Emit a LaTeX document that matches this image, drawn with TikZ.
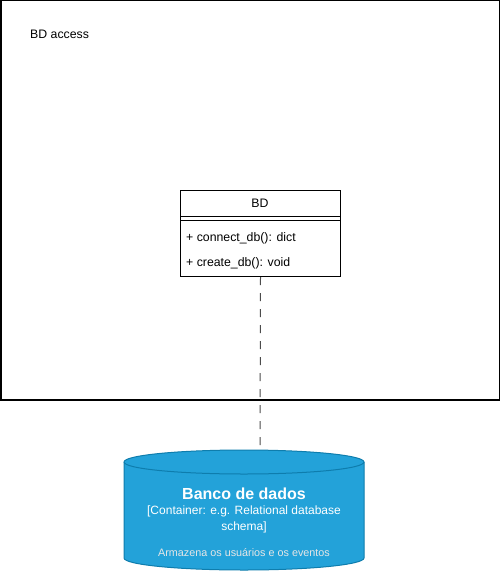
\documentclass[tikz,border=0pt]{standalone}
\usepackage{fontspec}
\setmainfont{Liberation Sans}
\definecolor{dbfill}{HTML}{23A2D9}
\definecolor{dbline}{HTML}{0E7DAD}
\definecolor{dimwhite}{HTML}{E6E6E6}
\begin{document}
\begin{tikzpicture}[x=1pt,y=-1pt,
  txt/.style={inner sep=0pt,font=\fontsize{12.3}{14}\selectfont},
  classbox/.style={draw=black,line width=1pt,fill=white},
  conn/.style={draw=black!70,line width=1pt,dash pattern=on 8pt off 8pt}]
\useasboundingbox (0,0) rectangle (500,572);
% outer frame
\draw[line width=1.5pt,fill=white] (0.75,0.75) rectangle (499.25,400);
\node[txt,anchor=west] (frametitle) at (30,34) {BD access};
% class box
\node[classbox,minimum width=160pt,minimum height=86pt,inner sep=0pt,anchor=north west] (bd) at (180,190) {};
\draw[line width=1pt] (180,216) -- (340,216);
\draw[line width=1pt] (180,220) -- (340,220);
\node[txt] (bdname) at (260,203) {BD};
\node[txt,anchor=west] (m1) at (186,238) {+ connect\_db(): dict};
\node[txt,anchor=west] (m2) at (186,263) {+ create\_db(): void};
% database cylinder
\draw[fill=dbfill,draw=dbline,line width=1pt]
  (124,462) -- (124,558) arc[start angle=180,end angle=0,x radius=120,y radius=12]
  -- (364,462) arc[start angle=0,end angle=-180,x radius=120,y radius=12] -- cycle;
\draw[draw=dbline,line width=1pt] (124,462) arc[start angle=180,end angle=0,x radius=120,y radius=12];
\coordinate (dbtop) at (260,450.1);
\node[txt,text=white,font=\bfseries\fontsize{16}{18}\selectfont] (dbname) at (244,494) {Banco de dados};
\node[txt,text=white,font=\fontsize{12}{16}\selectfont,align=center] (dbtype) at (244,519) {[Container: e.g. Relational database\\schema]};
\node[txt,text=dimwhite,font=\fontsize{10.8}{12}\selectfont] (dbdesc) at (244,553) {Armazena os usuários e os eventos};
% connector
\draw[conn] (bd.south) -- (dbtop);
\end{tikzpicture}
\end{document}
